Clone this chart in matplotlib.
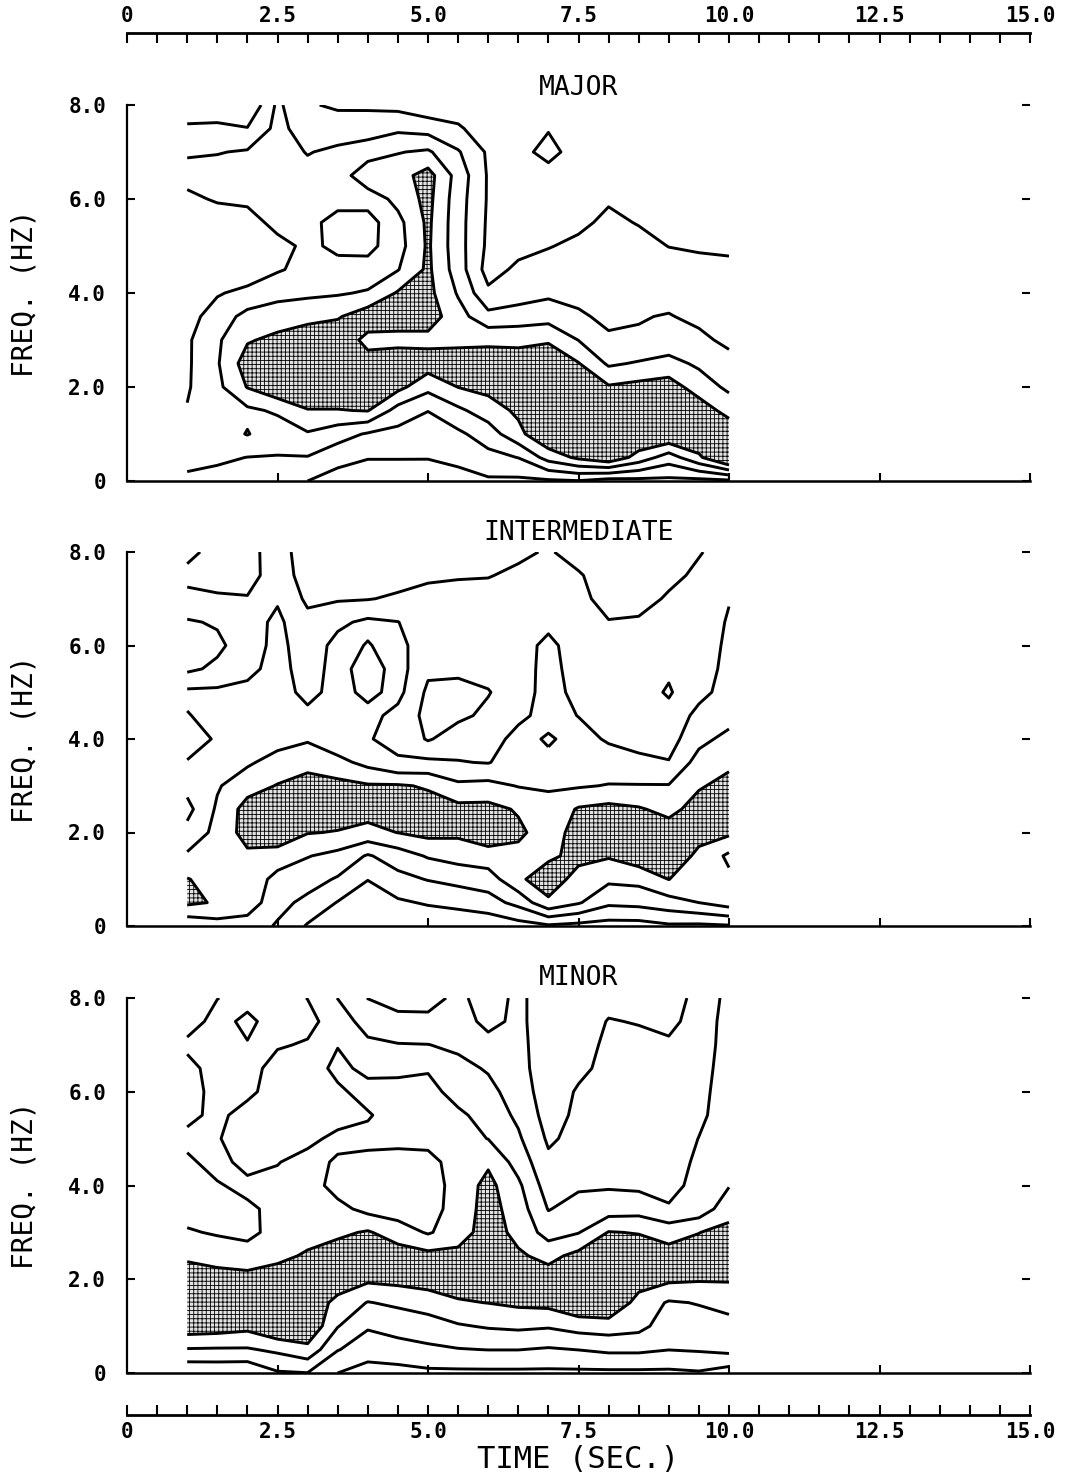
import numpy as np
import matplotlib.pyplot as plt

plt.rcParams['font.family'] = ['DejaVu Sans Mono']
plt.rcParams['hatch.color'] = 'black'
plt.rcParams['hatch.linewidth'] = 0.6

# sample grid of the spectra: time (sec) and frequency (Hz)
times = np.arange(1.0, 10.01, 0.5)
freqs = np.arange(0.0, 8.01, 0.5)

# contour level index, one list per time, f = 0 .. 8 Hz
major = [
    [1.8, 2.3, 2.3, 2.05, 1.9, 1.85, 1.85, 1.6, 1.3, 1.2, 1.2, 1.3, 1.8, 2.3, 1.9, 1.1, 0.6],
    [1.6, 2.2, 2.5, 2.6, 2.75, 2.9, 2.85, 2.5, 1.9, 1.3, 1.2, 1.5, 2.1, 2.4, 1.95, 1.1, 0.7],
    [1.7, 1.98, 3.05, 2.8, 4.05, 4.5, 3.9, 3.3, 2.3, 1.3, 1.2, 1.6, 2.2, 2.4, 2.1, 1.05, 0.0],
    [1.5, 1.95, 2.45, 3.15, 4.8, 4.9, 4.25, 3.5, 2.7, 1.9, 1.7, 2.3, 2.5, 2.5, 2.4, 2.3, 2.2],
    [1.0, 1.95, 2.9, 3.95, 4.8, 5.0, 4.6, 3.7, 2.8, 2.3, 2.2, 2.25, 2.3, 2.3, 1.95, 1.5, 1.1],
    [0.5, 1.4, 2.4, 3.95, 4.8, 5.0, 4.7, 3.9, 2.9, 2.3, 1.8, 1.7, 2.3, 2.4, 2.2, 1.5, 0.85],
    [0.4, 1.05, 1.9, 4.05, 4.8, 4.4, 3.7, 4.6, 3.1, 2.4, 1.7, 1.6, 2.4, 3.76, 2.49, 1.55, 0.83],
    [0.4, 1.05, 1.7, 2.6, 4.3, 4.6, 3.7, 4.5, 4.1, 2.95, 2.6, 2.7, 3.3, 3.6, 2.95, 1.8, 0.7],
    [0.35, 1.05, 1.55, 2.02, 3.3, 4.5, 3.7, 4.5, 4.3, 4.2, 4.15, 4.2, 4.3, 4.4, 3.15, 1.6, 0.3],
    [0.4, 1.4, 1.8, 2.8, 4.02, 4.6, 3.7, 3.4, 2.9, 2.5, 2.4, 2.4, 2.45, 2.6, 2.1, 1.1, 0.6],
    [0.85, 1.7, 2.5, 3.5, 4.3, 4.5, 3.8, 2.3, 1.2, 0.6, 0.8, 0.85, 0.9, 0.9, 0.85, 0.6, 0.4],
    [0.8, 2.02, 3.7, 4.2, 4.5, 4.6, 3.7, 2.5, 1.5, 1.2, 0.7, 0.6, 0.6, 0.65, 0.75, 0.6, 0.4],
    [0.85, 3.4, 5.0, 5.0, 4.9, 4.6, 3.9, 2.6, 1.8, 1.4, 0.95, 0.7, 0.6, 0.7, 1.25, 0.95, 0.5],
    [0.95, 4.2, 5.0, 5.0, 4.8, 4.05, 2.98, 2.2, 1.6, 1.4, 1.2, 0.8, 0.6, 0.55, 0.65, 0.6, 0.45],
    [0.6, 4.8, 5.0, 4.9, 4.1, 2.85, 2.2, 1.7, 1.6, 1.5, 1.35, 1.2, 0.9, 0.7, 0.6, 0.55, 0.45],
    [0.7, 3.6, 5.0, 5.0, 4.3, 3.1, 2.1, 1.95, 1.7, 1.5, 1.3, 0.95, 0.75, 0.6, 0.55, 0.5, 0.4],
    [0.75, 2.5, 5.0, 5.0, 4.5, 3.3, 2.45, 2.05, 1.7, 1.4, 0.98, 0.8, 0.65, 0.6, 0.55, 0.5, 0.4],
    [0.7, 3.8, 5.0, 4.6, 3.5, 2.84, 2.2, 1.8, 1.5, 1.25, 0.9, 0.75, 0.6, 0.55, 0.5, 0.45, 0.4],
    [0.8, 5.5, 4.8, 3.6, 2.8, 2.3, 1.8, 1.6, 1.4, 1.2, 0.85, 0.7, 0.6, 0.55, 0.5, 0.45, 0.4],
]

intermediate = [
    [2.2, 4.2, 4.05, 3.15, 2.3, 1.7, 2.3, 2.05, 1.6, 1.95, 2.2, 0.8, 0.5, 0.9, 1.7, 2.3, 1.7],
    [2.6, 3.9, 3.6, 3.4, 3.3, 3.15, 2.9, 2.3, 2.1, 2.3, 2.2, 1.2, 0.8, 1.1, 1.9, 2.3, 2.4],
    [2.5, 3.6, 3.6, 3.8, 4.4, 4.4, 3.6, 2.85, 2.5, 2.4, 2.3, 1.7, 1.5, 1.6, 1.95, 2.3, 2.35],
    [1.9, 2.3, 2.7, 3.5, 4.8, 4.6, 4.05, 3.4, 2.6, 2.5, 2.45, 2.4, 2.3, 2.2, 1.9, 1.6, 1.5],
    [0.9, 1.75, 2.4, 3.05, 4.05, 4.6, 4.5, 3.6, 2.9, 2.25, 1.7, 1.5, 1.45, 1.3, 0.8, 0.5, 0.4],
    [0.5, 0.95, 1.9, 2.7, 3.95, 4.5, 4.3, 3.3, 2.3, 2.3, 2.35, 2.4, 2.3, 1.8, 0.9, 0.5, 0.4],
    [0.3, 0.6, 1.02, 1.9, 3.7, 4.4, 4.1, 2.7, 2.05, 2.3, 1.75, 1.5, 1.95, 2.2, 0.95, 0.5, 0.4],
    [0.3, 0.85, 1.7, 2.5, 4.02, 4.5, 4.1, 2.1, 1.77, 1.7, 2.3, 2.4, 2.3, 2.02, 1.15, 0.6, 0.4],
    [0.25, 1.1, 2.05, 3.1, 4.3, 4.4, 3.9, 2.2, 0.9, 0.7, 0.8, 1.2, 1.4, 1.5, 1.4, 0.8, 0.4],
    [0.25, 1.3, 2.3, 3.4, 4.2, 4.3, 3.2, 2.05, 1.5, 0.8, 0.7, 1.2, 1.4, 1.5, 1.45, 0.9, 0.4],
    [0.3, 1.6, 2.5, 3.6, 4.6, 4.3, 3.3, 1.95, 1.6, 1.2, 0.95, 1.3, 1.45, 1.5, 1.4, 0.95, 0.5],
    [0.6, 2.3, 3.8, 3.7, 4.2, 3.9, 2.95, 2.5, 2.3, 1.8, 1.5, 1.45, 1.5, 1.4, 1.3, 1.2, 0.8],
    [0.85, 3.8, 4.6, 3.8, 3.5, 3.3, 2.9, 2.2, 1.9, 2.3, 2.4, 2.4, 2.3, 1.7, 1.35, 1.2, 1.1],
    [0.7, 3.1, 3.6, 4.3, 4.4, 4.1, 2.9, 2.5, 2.3, 1.98, 1.7, 1.5, 1.4, 1.35, 1.3, 1.1, 0.6],
    [0.6, 2.2, 3.2, 4.1, 4.5, 4.3, 3.05, 2.4, 1.9, 1.6, 1.5, 1.4, 1.3, 1.05, 0.6, 0.5, 0.4],
    [0.6, 2.3, 3.3, 4.6, 4.6, 4.1, 3.05, 2.2, 1.7, 1.5, 1.4, 1.35, 1.3, 1.1, 0.7, 0.5, 0.45],
    [0.85, 2.6, 4.02, 4.6, 4.5, 3.7, 3.05, 2.05, 1.6, 1.3, 0.9, 1.15, 1.3, 1.25, 1.1, 0.8, 0.5],
    [0.8, 3.0, 3.3, 3.8, 4.3, 4.4, 3.9, 3.4, 2.7, 2.3, 1.7, 1.5, 1.45, 1.4, 1.3, 1.15, 0.95],
    [0.9, 3.5, 3.2, 2.8, 4.2, 4.6, 4.3, 3.8, 3.3, 2.6, 2.4, 2.3, 2.2, 2.1, 1.95, 1.6, 1.3],
]

minor = [
    [1.15, 2.93, 4.6, 4.8, 4.6, 3.8, 3.1, 2.6, 2.5, 2.8, 3.3, 2.7, 2.5, 2.7, 3.2, 2.6, 2.3],
    [1.2, 2.9, 4.5, 4.7, 4.4, 3.6, 2.9, 2.5, 2.9, 3.4, 3.1, 3.3, 3.4, 3.4, 3.4, 3.3, 2.98],
    [1.15, 2.9, 4.3, 4.6, 4.3, 3.5, 2.7, 2.8, 3.3, 2.6, 2.3, 2.5, 3.3, 3.4, 3.05, 2.8, 3.3],
    [1.9, 3.2, 5.0, 4.7, 4.4, 3.8, 3.4, 3.3, 3.3, 2.95, 2.5, 2.4, 2.4, 2.6, 3.1, 3.4, 3.4],
    [1.98, 3.7, 4.9, 4.7, 4.5, 4.1, 3.7, 3.5, 3.5, 3.4, 2.7, 2.4, 2.3, 2.4, 2.9, 3.3, 2.98],
    [1.0, 2.05, 3.05, 3.7, 4.6, 4.5, 3.8, 3.3, 2.6, 2.85, 3.3, 2.5, 2.8, 3.3, 2.95, 2.5, 1.98],
    [0.55, 1.5, 2.1, 2.95, 4.2, 4.6, 4.1, 2.7, 2.5, 2.7, 3.3, 2.9, 3.4, 2.7, 2.2, 1.6, 0.98],
    [0.6, 1.7, 2.3, 3.2, 4.3, 4.5, 3.5, 2.5, 2.4, 2.6, 3.3, 3.5, 3.3, 2.8, 2.05, 1.3, 0.6],
    [0.8, 1.8, 2.6, 3.4, 4.5, 4.3, 2.9, 2.6, 2.5, 2.7, 3.3, 3.5, 3.35, 2.9, 2.02, 1.2, 0.7],
    [0.8, 1.95, 2.9, 3.9, 4.5, 4.3, 3.5, 3.4, 3.4, 3.4, 3.35, 3.2, 2.6, 2.3, 1.8, 1.4, 1.2],
    [0.8, 2.02, 3.1, 4.02, 4.6, 4.6, 4.5, 4.4, 4.3, 3.85, 2.98, 2.6, 2.3, 1.9, 1.3, 0.75, 0.6],
    [0.8, 2.02, 3.2, 4.2, 4.6, 4.15, 3.7, 3.5, 3.2, 2.6, 2.15, 1.8, 1.5, 1.3, 1.25, 1.2, 1.2],
    [0.8, 1.9, 3.1, 4.3, 4.5, 3.7, 2.6, 1.95, 1.5, 1.2, 0.85, 0.6, 0.5, 0.5, 0.5, 0.5, 0.5],
    [0.8, 2.02, 3.4, 4.9, 4.7, 4.3, 2.95, 2.4, 1.85, 1.5, 1.3, 1.2, 1.1, 0.8, 0.6, 0.5, 0.5],
    [0.8, 2.2, 3.5, 5.0, 4.8, 4.5, 4.05, 2.5, 1.9, 1.6, 1.45, 1.35, 1.3, 1.25, 1.2, 1.05, 0.7],
    [0.8, 2.2, 3.3, 3.6, 4.5, 4.6, 3.95, 2.6, 1.8, 1.6, 1.45, 1.4, 1.35, 1.3, 1.25, 0.95, 0.6],
    [0.8, 2.02, 2.5, 2.9, 4.2, 4.4, 3.6, 2.1, 1.7, 1.5, 1.4, 1.35, 1.3, 1.25, 1.15, 0.75, 0.55],
    [0.9, 2.1, 2.6, 3.05, 4.1, 4.4, 3.98, 2.4, 2.3, 2.2, 2.02, 1.8, 1.7, 1.6, 1.5, 1.4, 1.3],
    [0.5, 2.3, 2.7, 3.3, 4.1, 4.6, 4.3, 3.6, 2.95, 2.7, 2.6, 2.5, 2.5, 2.45, 2.4, 2.4, 2.3],
]

panel_names = ["MAJOR", "INTERMEDIATE", "MINOR"]
line_levels = [1, 2, 3, 4]
shade_from = 4
time_ticks = [0, 2.5, 5.0, 7.5, 10.0, 12.5, 15.0]
time_labels = ["0", "2.5", "5.0", "7.5", "10.0", "12.5", "15.0"]
freq_ticks = [0, 2, 4, 6, 8]
freq_labels = ["0", "2.0", "4.0", "6.0", "8.0"]

fig = plt.figure(figsize=(10.69, 14.81), dpi=100)
W, H = 1069.0, 1481.0
left = 127 / W
width = (1030 - 127) / W
# (top, bottom) of each panel in pixels
rows = [(105, 481), (552, 926), (998, 1373)]
title_px = [88, 533, 978]

for name, data, (ytop, ybot), ty in zip(panel_names, [major, intermediate, minor], rows, title_px):
    ax = fig.add_axes([left, 1 - ybot / H, width, (ybot - ytop) / H])
    z = np.array(data).T
    ax.contourf(times, freqs, z, levels=[shade_from, 100], colors=['#e2e2e2'], hatches=['++++'])
    ax.contour(times, freqs, z, levels=line_levels, colors='k', linewidths=2.1)
    ax.set_xlim(0, 15)
    ax.set_ylim(0, 8)
    ax.spines['top'].set_visible(False)
    ax.spines['right'].set_visible(False)
    ax.spines['left'].set_linewidth(1.6)
    ax.spines['bottom'].set_linewidth(1.8)
    ax.set_xticks(time_ticks[1:])
    ax.set_xticklabels([])
    ax.set_yticks(freq_ticks)
    ax.set_yticklabels(freq_labels)
    ax.tick_params(direction='in', length=6, width=1.5, right=True, labelright=False,
                   labelsize=15, pad=15)
    for lab in ax.get_yticklabels():
        lab.set_fontweight('bold')
    fig.text(left + width / 2, 1 - ty / H, name, ha='center', va='center', fontsize=19)
    fig.text(25 / W, 1 - (ytop + ybot) / 2 / H, 'FREQ. (HZ)', rotation=90,
             ha='center', va='center', fontsize=20)

# time rulers above and below the panels
top = fig.add_axes([left, 1 - 33 / H - 0.01, width, 0.01])
bot = fig.add_axes([left, 1 - 1415 / H, width, 0.01])
for rax, where in [(top, 'top'), (bot, 'bottom')]:
    rax.patch.set_visible(False)
    for s in ['top', 'bottom', 'left', 'right']:
        rax.spines[s].set_visible(s == where)
    rax.spines[where].set_linewidth(2)
    rax.set_xlim(0, 15)
    rax.set_yticks([])
    rax.set_xticks(time_ticks)
    rax.set_xticks(np.arange(0, 15.01, 0.5), minor=True)
    rax.set_xticklabels(time_labels)
    rax.tick_params(axis='x', which='both', direction='in', length=7, width=1.5,
                    top=(where == 'top'), bottom=(where == 'bottom'),
                    labeltop=(where == 'top'), labelbottom=(where == 'bottom'),
                    labelsize=15, pad=5)
    for lab in rax.get_xticklabels():
        lab.set_fontweight('bold')

fig.text(left + width / 2, 1 - 1460 / H, 'TIME (SEC.)', ha='center', va='center', fontsize=22)

fig.savefig('out.png', dpi=100)
